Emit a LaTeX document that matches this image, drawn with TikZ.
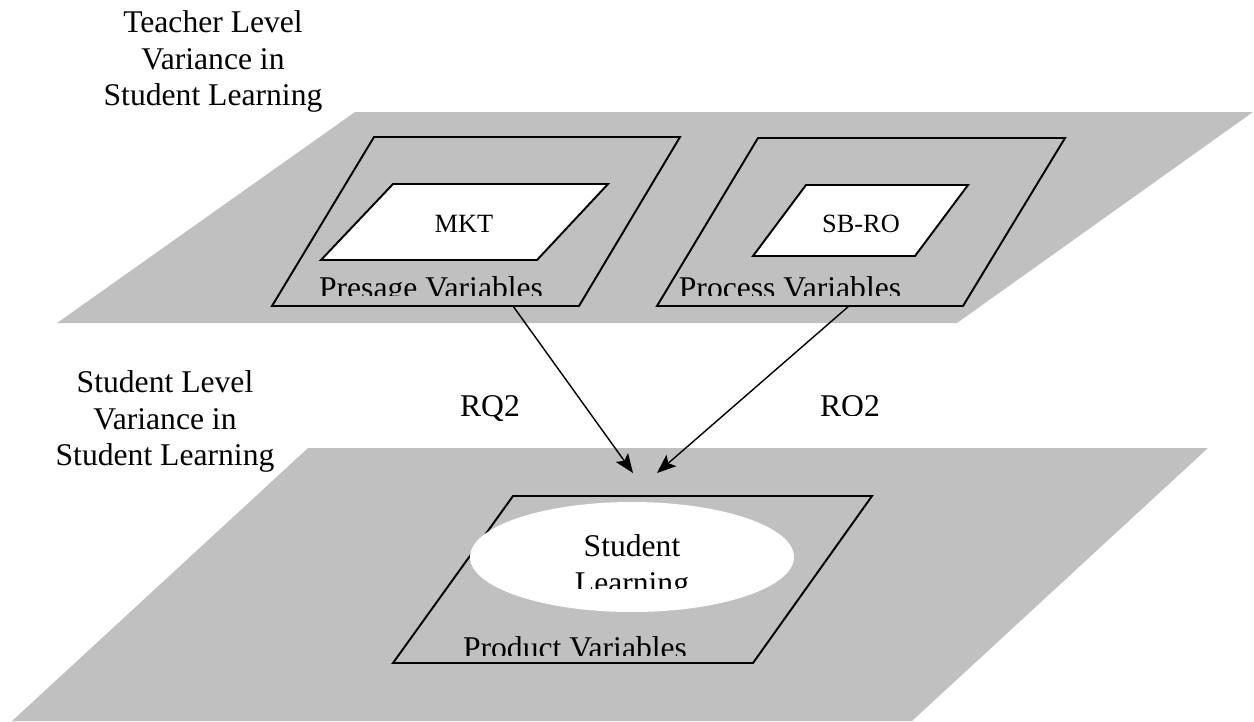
\documentclass[tikz,border=0pt]{standalone}
\usepackage{fontspec}
\setmainfont{Liberation Serif}
\usetikzlibrary{arrows.meta,shapes.geometric}
\definecolor{planegray}{RGB}{192,192,192}

\begin{document}
\begin{tikzpicture}[x=0.02cm,y=-0.02cm,
    plane/.style={fill=planegray, draw=none},
    varbox/.style={draw=black, line width=1.1pt},
    innerbox/.style={draw=black, fill=white, line width=1.1pt},
    lbl/.style={font=\fontsize{18}{21}\selectfont, inner sep=0pt, align=center},
    smalllbl/.style={font=\fontsize{15}{18}\selectfont, inner sep=0pt},
    link/.style={line width=0.8pt, -{Stealth[length=0.38cm,width=0.3cm,inset=0.08cm]}}]
    \useasboundingbox (0,0) rectangle (1254,721);

    % planes
    \fill[plane] (355,112) -- (1253,112) -- (957,323) -- (57,323) -- cycle;
    \fill[plane] (308,448) -- (1208,448) -- (912,721) -- (12,721) -- cycle;

    % teacher level
    \node[lbl] (teacher) at (213,61.5) {Teacher Level\\Variance in\\Student Learning};
    \draw[varbox] (374,137) -- (680,137) -- (579,306) -- (272,306) -- cycle;
    \draw[innerbox] (393,184) -- (608,184) -- (537,260) -- (321,260) -- cycle;
    \node[smalllbl, anchor=base] (mkt) at (464,232) {MKT};
    \begin{scope}
        \clip (290,250) rectangle (600,295);
        \node[lbl, anchor=base] (presage) at (431,298) {Presage Variables};
    \end{scope}

    \draw[varbox] (758,138) -- (1065,138) -- (963,306) -- (657,306) -- cycle;
    \draw[innerbox] (806,185) -- (968,185) -- (915,256) -- (753,256) -- cycle;
    \node[smalllbl, anchor=base] (sbro) at (861,232) {SB-RO};
    \begin{scope}
        \clip (660,250) rectangle (960,295);
        \node[lbl, anchor=base] (process) at (790,298) {Process Variables};
    \end{scope}

    % student level
    \node[lbl] (student) at (165,421.5) {Student Level\\Variance in\\Student Learning};
    \draw[varbox] (513,496) -- (872,496) -- (753,663) -- (393,663) -- cycle;
    \node[ellipse, fill=white, minimum width=6.48cm, minimum height=2.2cm, inner sep=0pt] (learn) at (632,557) {};
    \begin{scope}
        \clip (450,500) rectangle (820,588);
        \node[lbl] (learntext) at (632,567.5) {Student\\Learning};
    \end{scope}
    \begin{scope}
        \clip (400,600) rectangle (760,655);
        \node[lbl, anchor=base] (product) at (575,658) {Product Variables};
    \end{scope}

    % arrows
    \coordinate (presage-out) at (513,306);
    \coordinate (process-out) at (849,306);
    \coordinate (product-in1) at (633,473);
    \coordinate (product-in2) at (657,473);
    \draw[link] (presage-out) -- (product-in1);
    \draw[link] (process-out) -- (product-in2);

    \node[lbl, anchor=base] (rq-left) at (490,416) {RQ2};
    \begin{scope}
        \clip (780,370) rectangle (920,415);
        \node[lbl, anchor=base] (rq-right) at (850,416) {RQ2};
    \end{scope}
\end{tikzpicture}
\end{document}
